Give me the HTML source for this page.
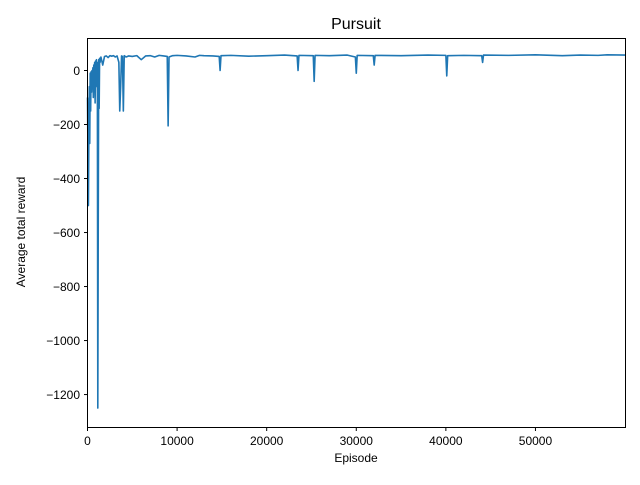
<!DOCTYPE html>
<html><head><meta charset="utf-8"><style>
body{margin:0;background:#fff;}
svg{font-family:"Liberation Sans","DejaVu Sans",sans-serif;}
</style></head><body>
<svg id="chart" width="640" height="480" viewBox="0 0 640 480">
<rect width="640" height="480" fill="#fff"/>
<text x="356" y="29" font-size="16" text-anchor="middle">Pursuit</text>
<g id="plot"></g>
<rect x="87.5" y="38.5" width="538" height="389" fill="none" stroke="#000" stroke-width="1"/>
<g id="xt"></g><g id="yt"></g>
<text x="356" y="462" font-size="12" text-anchor="middle">Episode</text>
<text x="25" y="232" font-size="12" text-anchor="middle" transform="rotate(-90 25 232)">Average total reward</text>
</svg>
<script>
const episodes=[0,50,100,150,200,250,300,350,400,450,500,550,600,650,700,750,800,850,900,950,1000,1050,1100,1150,1200,1250,1300,1350,1400,1500,1700,1900,2100,2300,2500,2700,2900,3100,3300,3500,3600,3700,3800,3900,4000,4100,4300,4600,5000,5500,6000,6500,7000,7500,8000,8500,8900,9000,9100,9500,10000,11000,12000,12500,13000,14000,14700,14800,14900,16000,18000,20000,22000,23400,23500,23600,25200,25300,25400,27000,29000,29900,30000,30100,31900,32000,32100,35000,38000,40000,40100,40200,42000,44000,44100,44200,47000,50000,53000,55000,57000,58000,60000];
const rewards=[-100,-300,-500,-250,-60,-270,-10,-150,-5,-80,0,-40,10,-100,20,-10,30,-120,35,0,40,-60,30,-1250,-560,40,-140,45,30,50,20,52,54,48,55,53,55,50,54,30,-150,-60,54,52,-150,55,50,54,52,55,40,54,55,50,56,54,52,-205,50,55,56,54,50,56,55,54,52,0,55,56,53,55,57,54,0,56,55,-40,56,55,57,50,-10,56,55,20,56,55,57,56,-20,55,56,55,30,57,56,58,55,57,56,58,57];
const xTicks=[0,10000,20000,30000,40000,50000];
const yTicks=[0,-200,-400,-600,-800,-1000,-1200];
const X0=87.5,X1=625.5,XMIN=0,XMAX=60050;
const Y0=427.5,Y1=38.5,YMIN=-1322,YMAX=118.5;
const sx=v=>X0+(v-XMIN)/(XMAX-XMIN)*(X1-X0);
const sy=v=>Y0-(v-YMIN)/(YMAX-YMIN)*(Y0-Y1);
const NS="http://www.w3.org/2000/svg";
const plot=document.getElementById('plot');
const line=document.createElementNS(NS,'polyline');


line.setAttribute('points',episodes.map((e,i)=>sx(e).toFixed(2)+','+sy(rewards[i]).toFixed(2)).join(' '));
line.setAttribute('fill','none');line.setAttribute('stroke','#1f77b4');line.setAttribute('stroke-width','1.6');line.setAttribute('stroke-linejoin','round');
plot.appendChild(line);
const xt=document.getElementById('xt');
xTicks.forEach(t=>{
 const g=document.createElementNS(NS,'g');
 
 
 const x=sx(t);
 g.innerHTML=`<line x1="${x}" x2="${x}" y1="427.5" y2="431" stroke="#000"/><text x="${x}" y="445" font-size="12" text-anchor="middle">${t}</text>`;
 xt.appendChild(g);
});
const yt=document.getElementById('yt');
yTicks.forEach(t=>{
 const g=document.createElementNS(NS,'g');
 
 
 const y=sy(t);
 g.innerHTML=`<line x1="84" x2="87.5" y1="${y}" y2="${y}" stroke="#000"/><text x="80" y="${y+4.5}" font-size="12" text-anchor="end">${t<0?'\u2212'+(-t):t}</text>`;
 yt.appendChild(g);
});
</script>
</body></html>
